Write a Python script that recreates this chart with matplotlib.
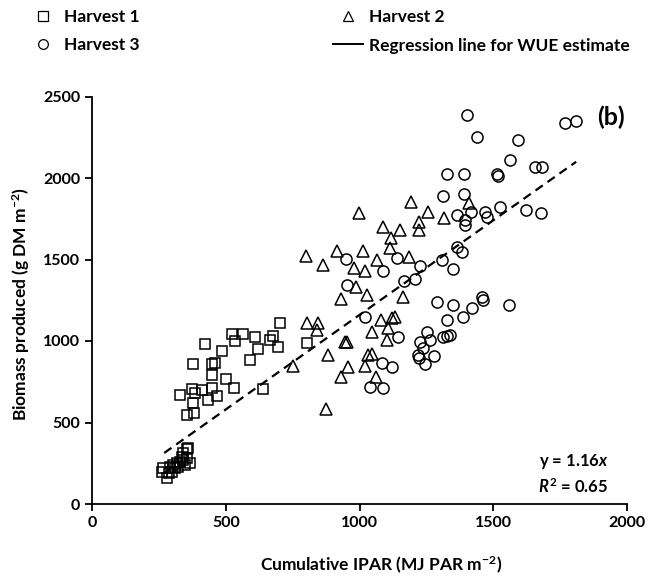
import matplotlib
matplotlib.use("Agg")
import matplotlib.pyplot as plt
from matplotlib.lines import Line2D
import numpy as np

plt.rcParams['font.family'] = ['Lato', 'DejaVu Sans']
plt.rcParams['mathtext.fontset'] = 'custom'
plt.rcParams['mathtext.rm'] = 'Lato:bold'
plt.rcParams['mathtext.bf'] = 'Lato:bold'
plt.rcParams['mathtext.it'] = 'Lato:bold:italic'

# Harvest 1 (squares)
h1_x = [267, 279, 260, 292, 304, 317, 329, 341, 354, 360, 335, 323, 310, 298, 366, 348, 342, 354, 286,
        703, 522, 566, 609, 678, 535, 422, 485, 622, 697, 665, 591, 376, 447, 460, 447, 500, 803, 638,
        531, 329, 373, 385, 410, 447, 466, 435, 379, 354, 383]
h1_y = [219, 157, 198, 229, 239, 250, 260, 270, 280, 342, 290, 229, 219, 198, 250, 239, 311, 335, 188,
        1112, 1043, 1043, 1027, 1033, 1002, 980, 939, 951, 965, 1006, 883, 857, 859, 863, 791, 769, 986, 705,
        714, 671, 705, 679, 699, 710, 663, 638, 618, 546, 556]

# Harvest 2 (triangles)
h2_x = [753, 800, 802, 840, 846, 865, 875, 883, 917, 930, 930, 946, 952, 958, 979, 987, 999, 1014, 1021,
        1021, 1027, 1033, 1046, 1046, 1062, 1067, 1080, 1089, 1102, 1108, 1117, 1114, 1120, 1133, 1151,
        1164, 1186, 1193, 1224, 1224, 1257, 1316, 1410]
h2_y = [847, 1521, 1112, 1067, 1108, 1466, 585, 914, 1554, 1256, 781, 996, 996, 843, 1450, 1333, 1783, 1554, 1429,
        847, 1282, 914, 918, 1057, 781, 1497, 1129, 1701, 1006, 1078, 1630, 1569, 1139, 1145, 1681,
        1272, 1517, 1855, 1732, 1681, 1793, 1753, 1845]

# Harvest 3 (circles)
h3_x = [950, 952, 1021, 1039, 1083, 1087, 1089, 1120, 1141, 1145, 1166, 1208, 1226, 1220, 1224, 1226, 1239,
        1246, 1251, 1264, 1278, 1289, 1309, 1311, 1313, 1326, 1326, 1328, 1340, 1348, 1350, 1365, 1365,
        1385, 1386, 1391, 1391, 1394, 1394, 1401, 1415, 1419, 1438, 1457, 1463, 1470, 1475, 1514, 1519,
        1525, 1558, 1562, 1594, 1623, 1656, 1681, 1680, 1768, 1809]
h3_y = [1503, 1345, 1145, 720, 865, 712, 1431, 839, 1507, 1026, 1370, 1383, 1463, 914, 897, 996, 960,
        861, 1055, 1006, 908, 1241, 1494, 1026, 1890, 1031, 2022, 1129, 1037, 1221, 1440, 1776, 1577,
        1545, 1145, 2022, 1899, 1740, 1710, 2387, 1793, 1205, 2250, 1268, 1252, 1790, 1761, 2022, 2012,
        1820, 1221, 2110, 2231, 1804, 2069, 2069, 1783, 2339, 2352]

slope = 1.16
fit_x = np.array([270, 1810])

fig = plt.figure(figsize=(6.49, 5.79), dpi=100)
ax = fig.add_axes([92 / 649, 75 / 579, 535 / 649, 407.5 / 579])

mk = dict(linestyle='none', markerfacecolor='none', markeredgecolor='black', markeredgewidth=1.1)
ax.plot(h1_x, h1_y, marker='s', markersize=7.6, **mk)
ax.plot(h2_x, h2_y, marker='^', markersize=8.4, **mk)
ax.plot(h3_x, h3_y, marker='o', markersize=8, **mk)
ax.plot(fit_x, slope * fit_x, color='black', lw=1.6, dashes=(4, 2.6))

ax.set_xlim(0, 2000)
ax.set_ylim(0, 2500)
ax.set_xticks([0, 500, 1000, 1500, 2000])
ax.set_yticks([0, 500, 1000, 1500, 2000, 2500])
for s in ['top', 'right']:
    ax.spines[s].set_visible(False)
for s in ['left', 'bottom']:
    ax.spines[s].set_linewidth(1.3)
ax.tick_params(direction='out', length=5, width=1.3, labelsize=11.5)
for lab in ax.get_xticklabels() + ax.get_yticklabels():
    lab.set_fontweight('bold')

ax.set_xlabel(r'Cumulative IPAR (MJ PAR m$^{-2}$)', fontsize=12.5, fontweight='bold')
ax.set_ylabel(r'Biomass produced (g DM m$^{-2}$)', fontsize=12.5, fontweight='bold')
ax.xaxis.set_label_coords(0.54, -0.125)
ax.yaxis.set_label_coords(-0.112, 0.49)

ax.text(0.995, 0.95, '(b)', transform=ax.transAxes, fontsize=18, fontweight='bold', ha='right', va='center')
ax.text(0.965, 0.105, r'y = 1.16$x$', transform=ax.transAxes, fontsize=12, fontweight='bold', ha='right', va='center')
ax.text(0.965, 0.043, r'$R^2$ = 0.65', transform=ax.transAxes, fontsize=12, fontweight='bold', ha='right', va='center')

hk = dict(linestyle='none', markerfacecolor='none', markeredgecolor='black', markeredgewidth=0.9)
hd1 = Line2D([], [], marker='s', markersize=7, **hk)
hd2 = Line2D([], [], marker='^', markersize=7.5, **hk)
hd3 = Line2D([], [], marker='o', markersize=7, **hk)
hdr = Line2D([], [], color='black', lw=1.4)

leg_kw = dict(frameon=False, handlelength=1.7, handletextpad=0.35,
              labelspacing=0.72, borderpad=0, borderaxespad=0,
              prop={'weight': 'bold', 'size': 12.5})
fig.legend([hd1, hd3], ['Harvest 1', 'Harvest 3'], loc='upper left',
           bbox_to_anchor=(28 / 649, 1 - 9 / 579), **leg_kw)
fig.legend([hd2, hdr], ['Harvest 2', 'Regression line for WUE estimate'], loc='upper left',
           bbox_to_anchor=(333 / 649, 1 - 9 / 579), **leg_kw)

fig.savefig('out.png', dpi=100)
